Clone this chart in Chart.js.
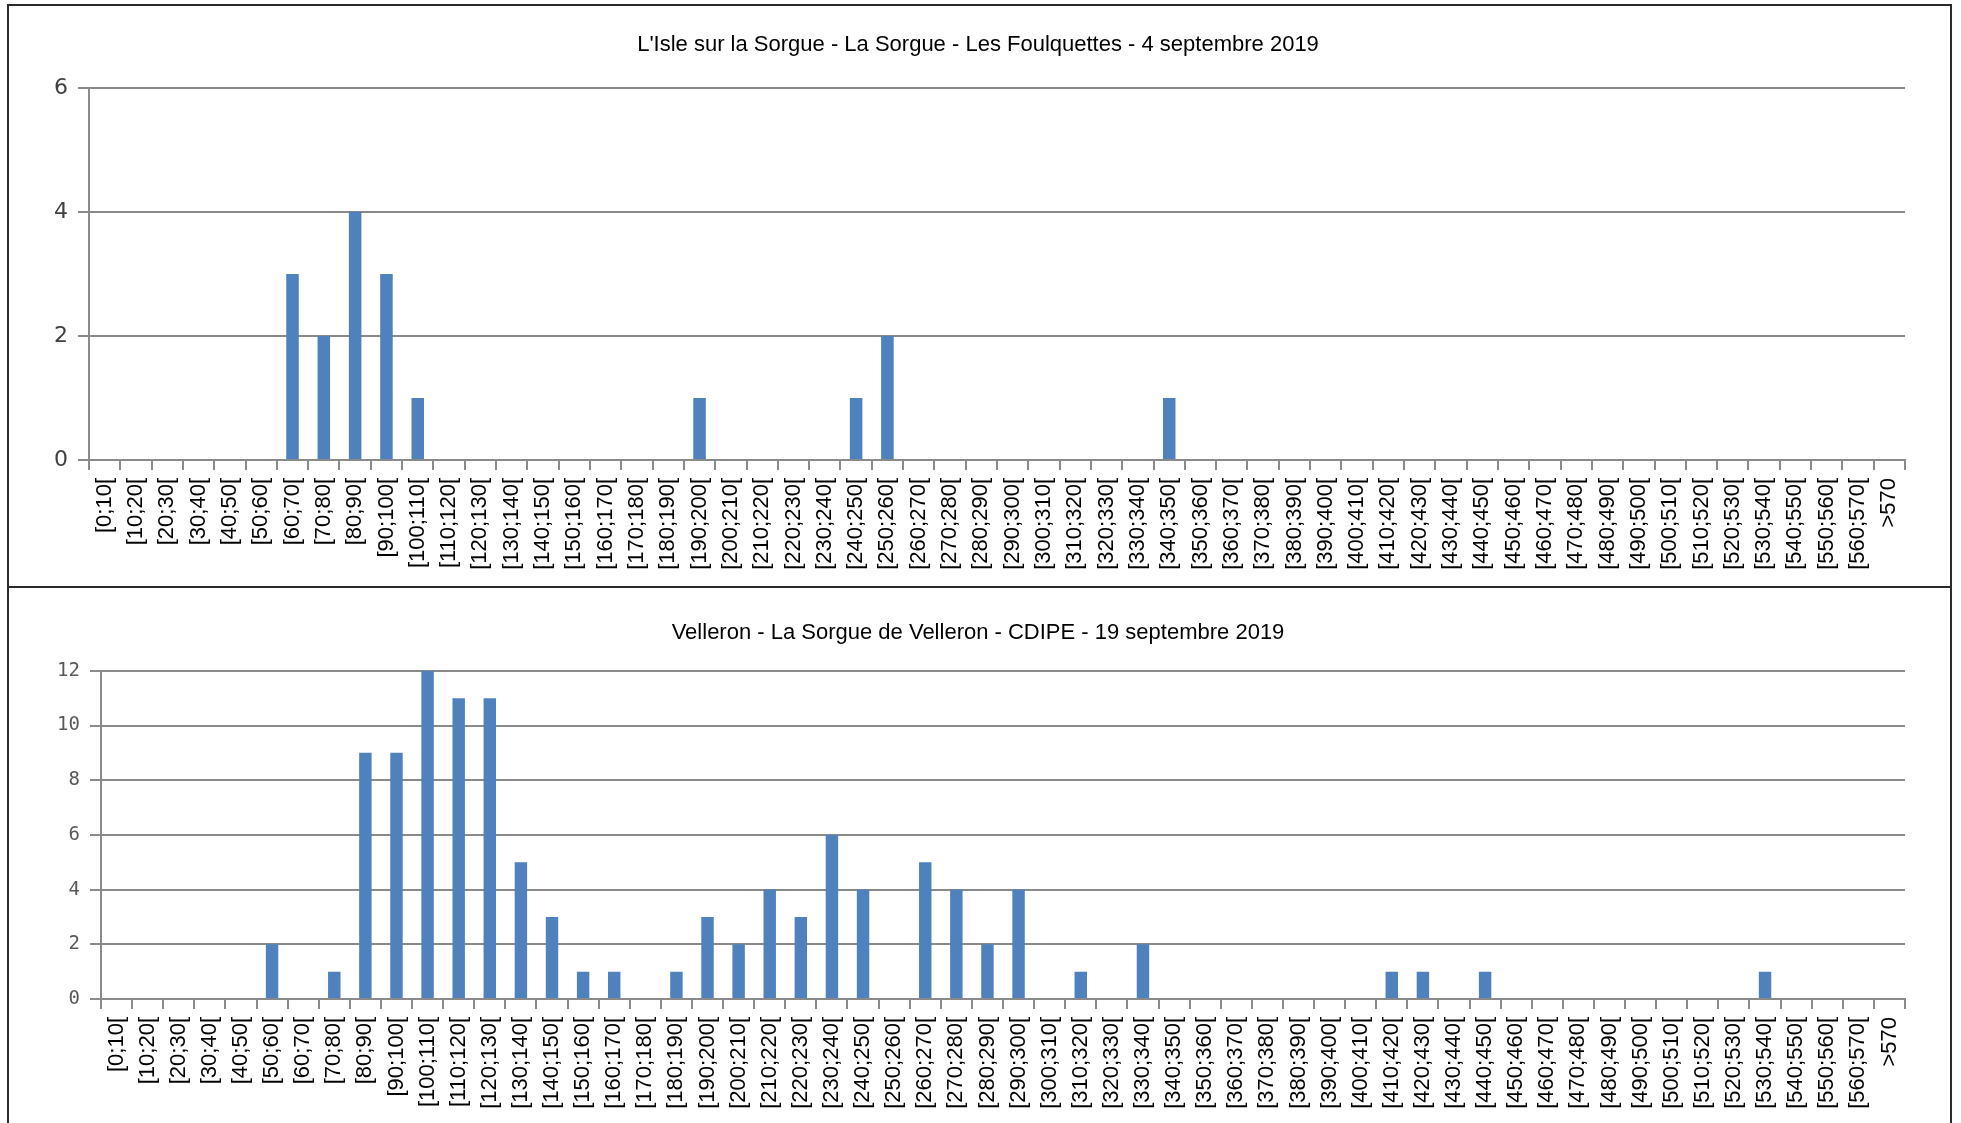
<!DOCTYPE html>
<html><head><meta charset="utf-8">
<script src="https://cdn.jsdelivr.net/npm/chart.js@4"></script>
<style>
html,body{margin:0;padding:0;background:#fff;width:1961px;height:1123px;overflow:hidden;position:relative}
.panel{position:absolute;box-sizing:border-box;border:2px solid #2b2b2b;background:#fff}
canvas{position:absolute}
</style></head><body>
<div class="panel" style="left:7px;top:4px;width:1945px;height:584px"></div>
<div class="panel" style="left:7px;top:586px;width:1945px;height:560px"></div>
<canvas id="c1" width="1940" height="580" style="left:9px;top:6px;width:1940px;height:580px"></canvas>
<canvas id="c2" width="1940" height="534" style="left:9px;top:589px;width:1940px;height:534px"></canvas>
<script>
const categories = ["[0;10[","[10;20[","[20;30[","[30;40[","[40;50[","[50;60[","[60;70[","[70;80[","[80;90[","[90;100[",
"[100;110[","[110;120[","[120;130[","[130;140[","[140;150[","[150;160[","[160;170[","[170;180[","[180;190[","[190;200[",
"[200;210[","[210;220[","[220;230[","[230;240[","[240;250[","[250;260[","[260;270[","[270;280[","[280;290[","[290;300[",
"[300;310[","[310;320[","[320;330[","[330;340[","[340;350[","[350;360[","[360;370[","[370;380[","[380;390[","[390;400[",
"[400;410[","[410;420[","[420;430[","[430;440[","[440;450[","[450;460[","[460;470[","[470;480[","[480;490[","[490;500[",
"[500;510[","[510;520[","[520;530[","[530;540[","[540;550[","[550;560[","[560;570[",">570"];

const titleIsle = "L'Isle sur la Sorgue - La Sorgue - Les Foulquettes - 4 septembre 2019";
const valuesIsle = [0,0,0,0,0,0,3,2,4,3, 1,0,0,0,0,0,0,0,0,1, 0,0,0,0,1,2,0,0,0,0, 0,0,0,0,1,0,0,0,0,0, 0,0,0,0,0,0,0,0,0,0, 0,0,0,0,0,0,0,0];

const titleVelleron = "Velleron - La Sorgue de Velleron - CDIPE - 19 septembre 2019";
const valuesVelleron = [0,0,0,0,0,2,0,1,9,9, 12,11,11,5,3,1,1,0,1,3, 2,4,3,6,4,0,5,4,2,4, 0,1,0,2,0,0,0,0,0,0, 0,1,1,0,1,0,0,0,0,0, 0,0,0,1,0,0,0,0];

const yMaxIsle = 6, yMaxVelleron = 12, yStep = 2;

const GRID = '#8a8a8a';
const BAR = '#4f81bd';

function makeChart(id, title, values, yMax, cfg) {
  return new Chart(document.getElementById(id), {
    type: 'bar',
    data: { labels: categories, datasets: [{ data: values, backgroundColor: BAR, borderWidth: 0,
      barPercentage: 0.4, categoryPercentage: 1.0, minBarLength: 1 }] },
    options: {
      responsive: false, animation: false, devicePixelRatio: 1,
      layout: { padding: { left: 42, right: 44, top: 0, bottom: 0 } },
      plugins: {
        legend: { display: false }, tooltip: { enabled: false },
        title: { display: true, text: title, color: '#000',
          font: { family: '"Liberation Sans", Arial, sans-serif', size: 22, weight: 'normal', lineHeight: 1.2 },
          padding: { top: cfg.tTop, bottom: cfg.tBottom } }
      },
      scales: {
        x: {
          grid: { offset: true, drawOnChartArea: false, drawTicks: true, tickLength: 10, color: GRID, lineWidth: 2 },
          border: { display: true, color: GRID, width: 2 },
          ticks: { autoSkip: false, minRotation: 90, maxRotation: 90, padding: 8, color: '#000',
            font: { family: '"Liberation Sans", Arial, sans-serif', size: 22 } },
          afterFit: s => { s.height = cfg.xH; }
        },
        y: {
          min: 0, max: yMax,
          grid: { color: GRID, lineWidth: 2, tickLength: 11, drawTicks: true },
          border: { display: true, color: GRID, width: 2 },
          ticks: { stepSize: yStep, padding: 10, color: cfg.yColor, font: cfg.yFont },
          afterFit: s => { s.width = cfg.yW; }
        }
      }
    }
  });
}

makeChart('c1', titleIsle, valuesIsle, yMaxIsle, {
  tTop: 25.8, tBottom: 29.6, xH: 126, yW: 38, yColor: '#404040',
  yFont: { family: '"DejaVu Sans", sans-serif', size: 22, weight: 'normal' }
});
makeChart('c2', titleVelleron, valuesVelleron, yMaxVelleron, {
  tTop: 30.8, tBottom: 24.6, xH: 124, yW: 50, yColor: '#595959',
  yFont: { family: '"DejaVu Sans Mono", monospace', size: 19, weight: 'normal' }
});
</script>
</body></html>
